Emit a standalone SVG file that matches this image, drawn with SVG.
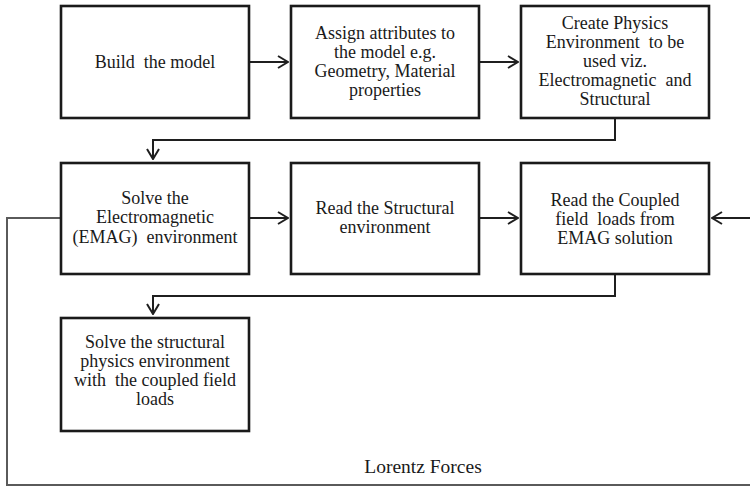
<svg xmlns="http://www.w3.org/2000/svg" width="750" height="487" viewBox="0 0 750 487">
  <style>
    .box { fill: #ffffff; stroke: #1a1a1a; stroke-width: 2.6; }
    .lbl { font-family: "Liberation Serif", "Times New Roman", serif; font-size: 18px; fill: #1a1a1a; text-anchor: middle; white-space: pre; }
    .big { font-size: 19.5px; }
    .flow { fill: none; stroke: #1f1f1f; stroke-width: 2; }
    .loop { fill: none; stroke: #5a5a5a; stroke-width: 2; }
  </style>
  <defs>
    <marker id="chev" viewBox="0 0 12 14" refX="11" refY="7" markerWidth="12" markerHeight="14" markerUnits="userSpaceOnUse" orient="auto">
      <path d="M1,1 L11,7 L1,13" fill="none" stroke="#1f1f1f" stroke-width="2"/>
    </marker>
  </defs>
  <rect width="750" height="487" fill="#ffffff"/>

  <g id="connectors">
    <line class="flow" x1="249" y1="62" x2="288" y2="62" marker-end="url(#chev)"/>
    <line class="flow" x1="479" y1="62" x2="518" y2="62" marker-end="url(#chev)"/>
    <path class="flow" d="M615,118 V140 H153 V159" marker-end="url(#chev)"/>
    <line class="flow" x1="249" y1="218" x2="288" y2="218" marker-end="url(#chev)"/>
    <line class="flow" x1="479" y1="218" x2="518" y2="218" marker-end="url(#chev)"/>
    <path class="flow" d="M615,274 V296 H153 V314" marker-end="url(#chev)"/>
    <path class="loop" d="M61,218 H7 V485 H753 V218"/>
    <line class="flow" x1="753" y1="218" x2="712" y2="218" marker-end="url(#chev)"/>
  </g>

  <g id="build-model">
    <rect class="box" x="61" y="6" width="188" height="112"/>
    <text class="lbl" x="155" y="68">Build  the model</text>
  </g>

  <g id="assign-attributes">
    <rect class="box" x="291" y="6" width="188" height="112"/>
    <text class="lbl" x="385" y="39">Assign attributes to</text>
    <text class="lbl" x="385" y="58">the model e.g.</text>
    <text class="lbl" x="385" y="77">Geometry, Material</text>
    <text class="lbl" x="385" y="96">properties</text>
  </g>

  <g id="create-physics">
    <rect class="box" x="521" y="6" width="188" height="112"/>
    <text class="lbl" x="615" y="29">Create Physics</text>
    <text class="lbl" x="615" y="48">Environment  to be</text>
    <text class="lbl" x="615" y="67">used viz.</text>
    <text class="lbl" x="615" y="86">Electromagnetic  and</text>
    <text class="lbl" x="615" y="105">Structural</text>
  </g>

  <g id="solve-emag">
    <rect class="box" x="61" y="163" width="188" height="111"/>
    <text class="lbl" x="155" y="204">Solve the</text>
    <text class="lbl" x="155" y="223">Electromagnetic</text>
    <text class="lbl" x="155" y="243">(EMAG)  environment</text>
  </g>

  <g id="read-structural">
    <rect class="box" x="291" y="163" width="188" height="111"/>
    <text class="lbl" x="385" y="214">Read the Structural</text>
    <text class="lbl" x="385" y="233">environment</text>
  </g>

  <g id="read-coupled">
    <rect class="box" x="521" y="163" width="188" height="111"/>
    <text class="lbl" x="615" y="206">Read the Coupled</text>
    <text class="lbl" x="615" y="225">field  loads from</text>
    <text class="lbl" x="615" y="244">EMAG solution</text>
  </g>

  <g id="solve-structural">
    <rect class="box" x="61" y="318" width="188" height="113"/>
    <text class="lbl" x="155" y="348">Solve the structural</text>
    <text class="lbl" x="155" y="367">physics environment</text>
    <text class="lbl" x="155" y="386">with  the coupled field</text>
    <text class="lbl" x="155" y="405">loads</text>
  </g>

  <g id="lorentz-label">
    <text class="lbl big" x="423" y="473">Lorentz Forces</text>
  </g>
</svg>
